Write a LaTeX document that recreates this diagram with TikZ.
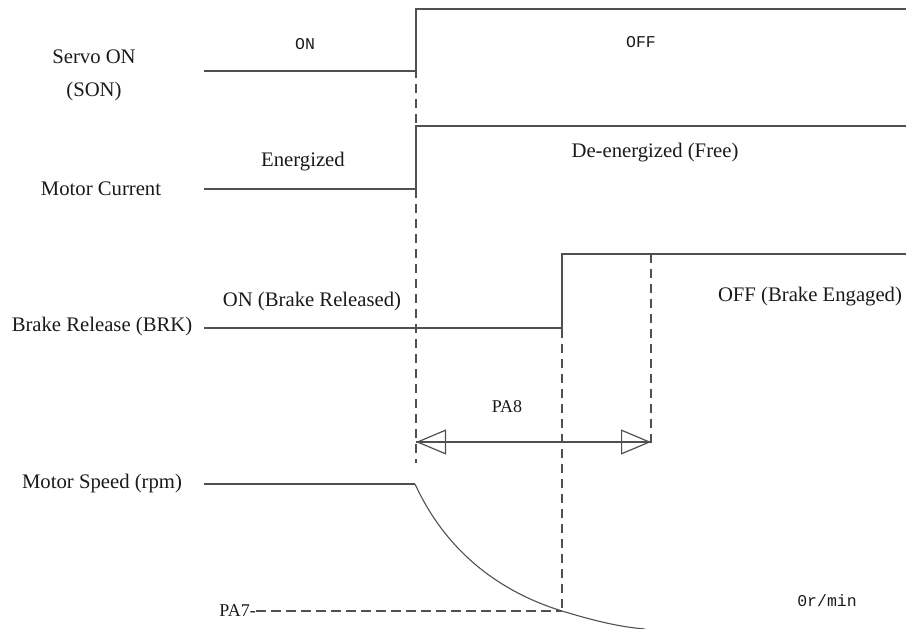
\documentclass[tikz,border=0pt]{standalone}
\usepackage{fontspec}
\setmainfont{Liberation Serif}
\newfontfamily\monofont{Liberation Mono}
\usetikzlibrary{arrows.meta}
\definecolor{wave}{HTML}{505050}
\definecolor{ink}{HTML}{1A1A1A}
\tikzset{
  signal/.style={draw=wave, line width=1.5pt},
  guide/.style={draw=wave, line width=1.3pt, dash pattern=on 9pt off 6pt},
  dim/.style={draw=wave, line width=1.2pt},
  lbl/.style={text=ink, inner sep=0pt, font=\fontsize{20.7}{33}\selectfont},
  plbl/.style={text=ink, inner sep=0pt, font=\fontsize{18}{20}\selectfont},
  mlbl/.style={text=ink, inner sep=0pt, font=\monofont\fontsize{16.5}{20}\selectfont},
}
\begin{document}
\begin{tikzpicture}[x=1pt, y=-1pt]
\useasboundingbox (0,0) rectangle (906,629);

% key instants
\coordinate (t0)  at (416,9);
\coordinate (t0b) at (416,463);
\coordinate (t1)  at (562,254);
\coordinate (t2)  at (651,254);
\coordinate (t2b) at (651,448);
\coordinate (pa7pt) at (562,611);

% Servo ON (SON)
\coordinate (son0) at (204,71);
\coordinate (son1) at (416,71);
\coordinate (son2) at (906,9);
\draw[signal] (son0) -- (son1) -- (t0) -- (son2);

% Motor current
\coordinate (cur0) at (204,189);
\coordinate (cur1) at (416,189);
\coordinate (cur2) at (416,126);
\coordinate (cur3) at (906,126);
\draw[signal] (cur0) -- (cur1) -- (cur2) -- (cur3);

% Brake release (BRK)
\coordinate (brk0) at (204,328);
\coordinate (brk1) at (562,328);
\coordinate (brk3) at (906,254);
\draw[signal] (brk0) -- (brk1) -- (t1) -- (brk3);

% Motor speed
\coordinate (spd0) at (204,484);
\coordinate (spd1) at (415,484);
\coordinate (spd2) at (645,629);
\draw[signal, line width=1.3pt] (spd0) -- (spd1);
\draw[signal, line width=1.1pt] (spd1) .. controls (450,560) and (510,595) .. (pa7pt)
  .. controls (595,621) and (620,627) .. (spd2);

% timing guides
\draw[guide] (t0) -- (t0b);
\draw[guide] (t1) -- (pa7pt);
\draw[guide] (t2) -- (t2b);

% PA8 interval
\coordinate (pa8a) at (416,442);
\coordinate (pa8b) at (651,442);
\draw[dim] (pa8a) -- (pa8b);
\draw[dim, {Triangle[open,length=30pt,width=25pt]}-{Triangle[open,length=30pt,width=25pt]}] (pa8a) -- (pa8b);
\node[plbl] (pa8) at (507,407) {PA8};

% PA7 level
\node[plbl, anchor=east] (pa7) at (256,611) {PA7-};
\draw[guide, dash pattern=on 10pt off 5pt] (pa7.east) -- (pa7pt);

% signal names
\node[lbl, align=center] (sonname) at (94,75) {Servo ON\\(SON)};
\node[lbl] (curname) at (101,189) {Motor Current};
\node[lbl] (brkname) at (102,327) {Brake Release (BRK)};
\node[lbl] (spdname) at (102,484) {Motor Speed (rpm)};

% state labels
\node[mlbl] (son_on)  at (305,44) {ON};
\node[mlbl] (son_off) at (641,42) {OFF};
\node[lbl] (cur_on)  at (303,162) {Energized};
\node[lbl] (cur_off) at (655,153) {De-energized (Free)};
\node[lbl] (brk_on)  at (312,302) {ON (Brake Released)};
\node[lbl] (brk_off) at (810,297) {OFF (Brake Engaged)};
\node[mlbl] (zero) at (827,601) {0r/min};
\end{tikzpicture}
\end{document}
